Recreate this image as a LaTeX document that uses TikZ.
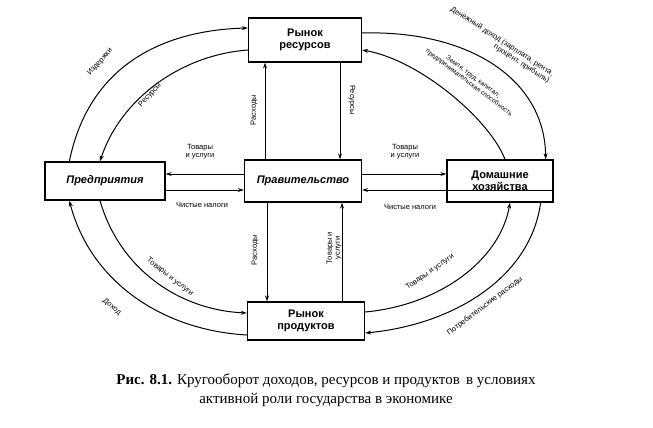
\documentclass[tikz,border=0pt]{standalone}
\usepackage{fontspec}
\setmainfont{Liberation Serif}
\newfontfamily\lab{Liberation Sans}
\usetikzlibrary{arrows.meta}
\begin{document}
\begin{tikzpicture}[x=1pt,y=-1pt,
  box/.style={draw,line width=1.3pt,font=\lab\bfseries\fontsize{11}{12}\selectfont,align=center,inner sep=0pt},
  ar/.style={line width=1pt,-{Stealth[length=6pt,width=4pt]}},
  sm/.style={font=\lab\fontsize{7.5}{8}\selectfont,align=center,inner sep=1pt}]
\useasboundingbox (0,0) rectangle (653,428);
\node[box,minimum width=113pt,minimum height=44pt] (rr) at (305,40) {Рынок\\ресурсов};
\node[box,minimum width=120pt,minimum height=38pt] (pr) at (105,181) {\itshape Предприятия};
\node[box,minimum width=117pt,minimum height=42pt] (gv) at (303,181) {\itshape Правительство};
\node[box,minimum width=106pt,minimum height=42pt] (hh) at (500,181) {Домашние\\хозяйства};
\node[box,minimum width=117pt,minimum height=38pt] (rp) at (306,321) {Рынок\\продуктов};
% curves
\draw[ar] ([xshift=25pt]pr.north west) .. controls (90,60) and (170,30) .. (rr.west|-0,28);
\draw[ar] (rr.west|-0,50) .. controls (180,55) and (120,100) .. ([xshift=-5pt]pr.north);
\draw[ar] (rr.east|-0,33) .. controls (470,30) and (545,80) .. ([xshift=-8pt]hh.north east);
\draw[ar] ([xshift=5pt]hh.north) .. controls (490,120) and (420,60) .. (rr.east|-0,50);
\draw[ar] (rp.west|-0,335) .. controls (160,330) and (90,280) .. ([xshift=25pt]pr.south west);
\draw[ar] ([xshift=-5pt]pr.south) .. controls (120,270) and (180,310) .. (rp.west|-0,313);
\draw[ar] (rp.east|-0,312) .. controls (440,305) and (500,260) .. ([xshift=10pt]hh.south);
\draw[ar] ([xshift=-13pt]hh.south east) .. controls (530,280) and (450,325) .. (rp.east|-0,333);
% straight
\draw[ar] (gv.north-|265,0) -- (rr.south-|265,0);
\draw[ar] (rr.south-|340,0) -- (gv.north-|340,0);
\draw[ar] (gv.south-|267,0) -- (rp.north-|267,0);
\draw[ar] (rp.north-|342,0) -- (gv.south-|342,0);
\draw[ar] (gv.west|-0,174) -- (pr.east|-0,174);
\draw[ar] (pr.east|-0,190) -- (gv.west|-0,190);
\draw[ar] (gv.east|-0,174) -- (hh.west|-0,174);
\draw[ar] (hh.east|-0,190) -- (gv.east|-0,190) ;
% labels
\node[sm] (l1) at (200,152) {Товары\\и услуги};
\node[sm] (l2) at (202,205) {Чистые налоги};
\node[sm] (l3) at (405,152) {Товары\\и услуги};
\node[sm] (l4) at (410,207) {Чистые налоги};
\node[sm,rotate=90] (l5) at (254,110) {Расходы};
\node[sm,rotate=-90] (l6) at (352,100) {Ресурсы};
\node[sm,rotate=90] (l7) at (255,250) {Расходы};
\node[sm,rotate=90] (l8) at (334,248) {Товары и\\услуги};
\node[sm,rotate=48] (l9) at (100,62) {Издержки};
\node[sm,rotate=48] (l10) at (150,95) {Ресурсы};
\node[sm,rotate=-33,align=right] (l11) at (500,45) {Денежный доход (зарплата, рента,\\процент, прибыль)};
\node[sm,rotate=-37,align=center,font=\lab\fontsize{6.5}{7}\selectfont] (l12) at (471,80) {Земля, труд, капитал,\\предпринимательская способность};
\node[sm,rotate=-38] (l13) at (170,277) {Товары и услуги};
\node[sm,rotate=-40] (l14) at (112,307) {Доход};
\node[sm,rotate=35] (l15) at (430,272) {Товары и услуги};
\node[sm,rotate=37] (l16) at (485,306) {Потребительские расходы};
% caption
\node[font=\fontsize{15}{19}\selectfont,align=center] (cap) at (326,390) {\textbf{Рис. 8.1.} Кругооборот доходов, ресурсов и продуктов\, в условиях\\активной роли государства в экономике};
\end{tikzpicture}
\end{document}
